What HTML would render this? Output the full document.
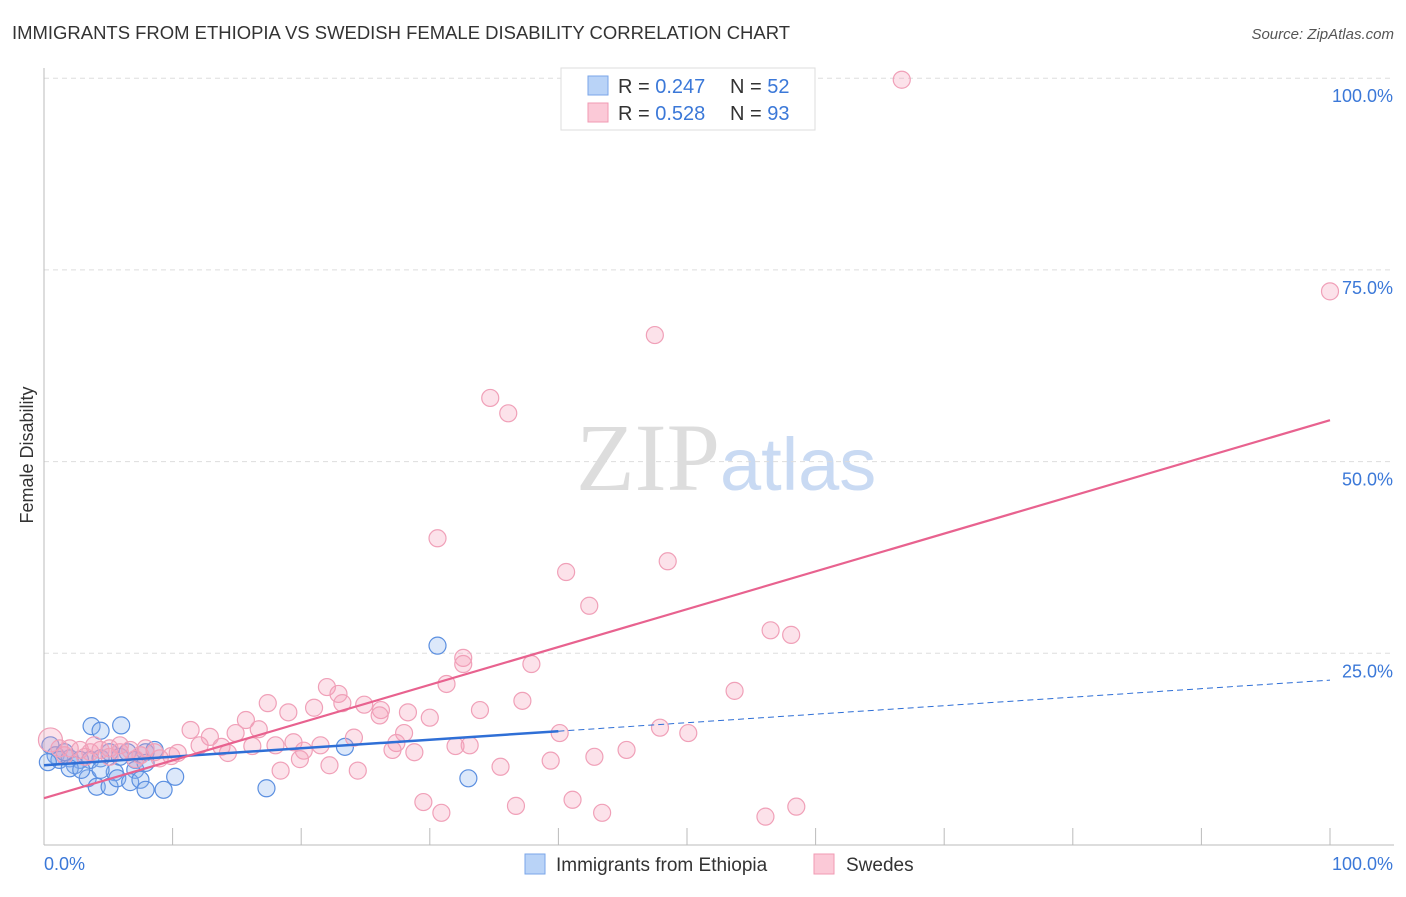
<!DOCTYPE html>
<html><head><meta charset="utf-8"><style>
body{margin:0;background:#fff;font-family:"Liberation Sans",sans-serif;}
</style></head><body>
<svg width="1406" height="892" xmlns="http://www.w3.org/2000/svg">
<text x="12" y="39" font-size="18" fill="#333" textLength="778" lengthAdjust="spacingAndGlyphs">IMMIGRANTS FROM ETHIOPIA VS SWEDISH FEMALE DISABILITY CORRELATION CHART</text>
<text x="1394" y="39" font-size="15" fill="#555" font-style="italic" text-anchor="end">Source: ZipAtlas.com</text>
<text x="720" y="490" font-size="96" fill="#ddd" text-anchor="end" font-family="Liberation Serif,serif">ZIP</text>
<text x="720" y="490" font-size="74" fill="#c9daf3">atlas</text>
<g id="grid"></g><g id="axes"></g><g id="pts"></g><g id="lines"></g>
<text transform="translate(33,455) rotate(-90)" font-size="18" fill="#333" text-anchor="middle">Female Disability</text>
<g>
<rect x="561" y="68" width="254" height="62" fill="#fff" stroke="#ddd"/>
<rect x="588" y="76" width="20" height="19" fill="#b9d3f7" stroke="#7aa6e8"/>
<rect x="588" y="103" width="20" height="19" fill="#fbc9d7" stroke="#f09ab3"/>
<text x="618" y="93" font-size="20" fill="#333">R = <tspan fill="#3b78d8">0.247</tspan></text>
<text x="730" y="93" font-size="20" fill="#333">N = <tspan fill="#3b78d8">52</tspan></text>
<text x="618" y="120" font-size="20" fill="#333">R = <tspan fill="#3b78d8">0.528</tspan></text>
<text x="730" y="120" font-size="20" fill="#333">N = <tspan fill="#3b78d8">93</tspan></text>
</g>
<g>
<rect x="525" y="854" width="20" height="20" fill="#b9d3f7" stroke="#7aa6e8"/>
<text x="556" y="871" font-size="19" fill="#333">Immigrants from Ethiopia</text>
<rect x="814" y="854" width="20" height="20" fill="#fbc9d7" stroke="#f09ab3"/>
<text x="846" y="871" font-size="19" fill="#333">Swedes</text>
</g>
</svg>
<script>
const yTicks=[25,50,75,100];
const yTickLabels=["25.0%","50.0%","75.0%","100.0%"];
const xTicks=[0,10,20,30,40,50,60,70,80,90,100];
const pinkX=[66.7,100,47.5,34.7,36.1,30.6,40.6,48.5,42.4,56.5,58.1,32.6,32.6,37.9,31.3,22.0,22.9,53.7,17.4,37.2,23.2,21.0,24.9,26.2,28.3,19.0,33.9,26.1,30.0,15.7,11.4,47.9,50.1,40.1,16.7,14.9,28.0,24.1,12.9,19.4,21.5,27.4,32.0,33.1,18.0,16.2,12.1,13.8,45.3,27.1,28.8,20.2,14.3,10.4,42.8,9.9,39.4,9.0,7.1,19.9,22.2,35.5,24.4,18.4,29.5,36.7,41.1,30.9,43.4,58.5,56.1,0.5,1.2,2.0,2.8,3.6,4.4,5.1,5.9,6.7,7.9,7.5,1.6,3.9,5.9,8.6,5.1,3.2];
const pinkY=[99.8,72.2,66.5,58.3,56.3,40.0,35.6,37.0,31.2,28.0,27.4,24.4,23.6,23.6,21.0,20.6,19.7,20.1,18.5,18.8,18.5,17.9,18.3,17.6,17.3,17.3,17.6,16.9,16.6,16.3,15.0,15.3,14.6,14.6,15.1,14.6,14.6,14.0,14.1,13.4,13.0,13.3,12.9,13.0,13.0,12.9,13.0,12.8,12.4,12.4,12.1,12.3,12.0,12.0,11.5,11.6,11.0,11.3,11.2,11.2,10.4,10.2,9.7,9.7,5.6,5.1,5.9,4.2,4.2,5.0,3.7,13.7,12.6,12.6,12.4,12.1,12.4,12.6,12.1,12.4,12.6,11.7,11.7,13.0,13.0,12.1,11.5,11.5];
const blueX=[30.6,33.0,23.4,17.3,3.7,6.0,4.4,0.5,0.9,1.2,2.0,2.8,2.4,3.6,4.4,5.1,5.9,6.5,7.1,7.9,8.6,7.1,7.9,5.5,3.4,4.1,5.1,5.7,6.7,7.5,7.9,9.3,10.2,4.4,2.0,2.9,1.6,0.3];
const blueY=[26.0,8.7,12.8,7.4,15.5,15.6,14.9,13.0,11.7,11.1,11.3,11.1,10.4,11.1,11.3,12.1,11.5,12.1,11.1,12.1,12.4,9.8,10.7,9.5,8.7,7.6,7.6,8.7,8.2,8.5,7.2,7.2,8.9,9.8,10.0,9.8,12.1,10.8];
const pinkTrend=[6.1,55.4];
const blueTrend=[10.4,21.5];
const blueSolidEnd=40;
const NS="http://www.w3.org/2000/svg";
const sx=v=>44+v*12.86, sy=v=>845-v*7.668;
function mk(t,a,p){const e=document.createElementNS(NS,t);for(const k in a)e.setAttribute(k,a[k]);document.getElementById(p).appendChild(e);return e;}
yTicks.forEach((t,i)=>{
 const l=mk('line',{x1:44,x2:1394,y1:sy(t),y2:sy(t),stroke:'#ddd','stroke-dasharray':'5,4'},'grid');
 
 
 const tx=mk('text',{x:1393,y:sy(t)+24,'font-size':18,fill:'#3b78d8','text-anchor':'end'},'grid');
 tx.textContent=yTickLabels[i];
 
 
});
const ya=mk('line',{x1:44,x2:44,y1:68,y2:845,stroke:'#bbb'},'axes');


const xa=mk('line',{x1:44,x2:1394,y1:845,y2:845,stroke:'#bbb'},'axes');


xTicks.forEach(t=>{
 const l=mk('line',{x1:sx(t),x2:sx(t),y1:828,y2:845,stroke:'#bbb'},'axes');
 
 
});
const xl0=mk('text',{x:44,y:870,'font-size':18,fill:'#3b78d8'},'axes');xl0.textContent='0.0%';


const xl1=mk('text',{x:1393,y:870,'font-size':18,fill:'#3b78d8','text-anchor':'end'},'axes');xl1.textContent='100.0%';


blueX.forEach((x,i)=>{
 const c=mk('circle',{cx:sx(x),cy:sy(blueY[i]),r:8.5,fill:'rgba(140,180,240,0.3)',stroke:'#5b8fe0','stroke-width':1.2},'pts');
 
 
});
pinkX.forEach((x,i)=>{
 const c=mk('circle',{cx:sx(x),cy:sy(pinkY[i]),r:i==71?12:8.5,fill:'rgba(244,160,185,0.3)',stroke:'#f0a0b8','stroke-width':1.2},'pts');
 
 
});
const bAt=x=>blueTrend[0]+(blueTrend[1]-blueTrend[0])*x/100;
const b1=mk('line',{x1:sx(0),y1:sy(bAt(0)),x2:sx(blueSolidEnd),y2:sy(bAt(blueSolidEnd)),stroke:'#2f6fd6','stroke-width':2.5},'lines');


const b2=mk('line',{x1:sx(blueSolidEnd),y1:sy(bAt(blueSolidEnd)),x2:sx(100),y2:sy(bAt(100)),stroke:'#2f6fd6','stroke-width':1,'stroke-dasharray':'6,4'},'lines');


const p=mk('line',{x1:sx(0),y1:sy(pinkTrend[0]),x2:sx(100),y2:sy(pinkTrend[1]),stroke:'#e8628f','stroke-width':2.2},'lines');


</script>
</body></html>
